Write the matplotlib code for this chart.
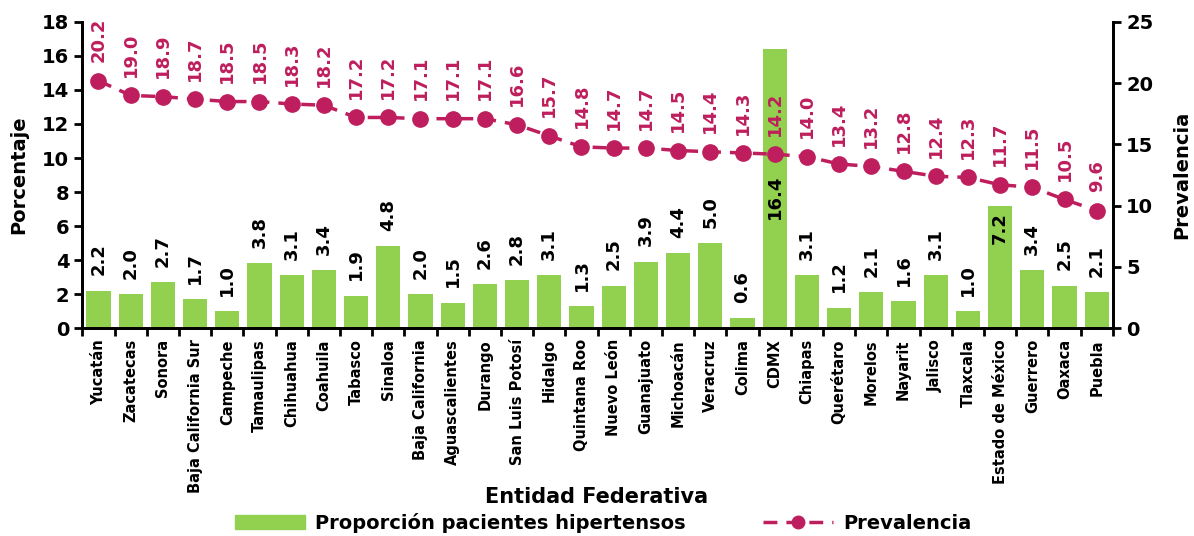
import matplotlib
matplotlib.use("Agg")
import matplotlib.pyplot as plt
import numpy as np
from matplotlib.lines import Line2D
from matplotlib.patches import Patch

# Datos por entidad federativa
entidades = ["Yucatán", "Zacatecas", "Sonora", "Baja California Sur", "Campeche",
             "Tamaulipas", "Chihuahua", "Coahuila", "Tabasco", "Sinaloa",
             "Baja California", "Aguascalientes", "Durango", "San Luis Potosí",
             "Hidalgo", "Quintana Roo", "Nuevo León", "Guanajuato", "Michoacán",
             "Veracruz", "Colima", "CDMX", "Chiapas", "Querétaro", "Morelos",
             "Nayarit", "Jalisco", "Tlaxcala", "Estado de México", "Guerrero",
             "Oaxaca", "Puebla"]
proporcion = [2.2, 2.0, 2.7, 1.7, 1.0, 3.8, 3.1, 3.4, 1.9, 4.8, 2.0, 1.5, 2.6, 2.8,
              3.1, 1.3, 2.5, 3.9, 4.4, 5.0, 0.6, 16.4, 3.1, 1.2, 2.1, 1.6, 3.1, 1.0,
              7.2, 3.4, 2.5, 2.1]
prevalencia = [20.2, 19.0, 18.9, 18.7, 18.5, 18.5, 18.3, 18.2, 17.2, 17.2, 17.1, 17.1,
               17.1, 16.6, 15.7, 14.8, 14.7, 14.7, 14.5, 14.4, 14.3, 14.2, 14.0, 13.4,
               13.2, 12.8, 12.4, 12.3, 11.7, 11.5, 10.5, 9.6]

verde = "#92D050"
rosa = "#BE1E5D"
guiones = (0, (4, 2.6))

plt.rcParams['font.family'] = ['DejaVu Sans']
plt.rcParams['font.weight'] = 'bold'

fig = plt.figure(figsize=(11.94, 5.36), dpi=100)
ax = fig.add_axes([0.069, 0.388, 0.863, 0.571])
ax2 = ax.twinx()

x = np.arange(len(entidades))
ax.bar(x, proporcion, width=0.75, color=verde, zorder=2)
ax2.plot(x, prevalencia, color=rosa, lw=2.5, ls=guiones, marker='o', ms=11, zorder=3)

# etiquetas de barras
for i, v in enumerate(proporcion):
    if entidades[i] == "CDMX":
        ax.text(i, 7.7, f"{v:.1f}", rotation=90, ha='center', va='center',
                fontsize=13, fontweight='bold', color='black', zorder=4)
    elif entidades[i] == "Estado de México":
        ax.text(i, v - 0.4, f"{v:.1f}", rotation=90, ha='center', va='top',
                fontsize=13, fontweight='bold', color='black', zorder=4)
    else:
        ax.text(i, v + 0.9, f"{v:.1f}", rotation=90, ha='center', va='bottom',
                fontsize=13, fontweight='bold', color='black', zorder=4)

for i, v in enumerate(prevalencia):
    ax2.text(i, v + 1.5, f"{v:.1f}", rotation=90, ha='center', va='bottom',
             fontsize=13, fontweight='bold', color=rosa, zorder=4)

ax.set_xlim(-0.5, len(entidades) - 0.5)
ax.set_ylim(0, 18)
ax2.set_ylim(0, 25)
ax.set_yticks(np.arange(0, 19, 2))
ax2.set_yticks(np.arange(0, 26, 5))

ax.set_xticks(x)
ax.set_xticklabels(entidades, rotation=90, fontsize=10.5, fontweight='bold')
ax.set_xticks(np.arange(-0.5, len(entidades), 1), minor=True)
ax.tick_params(axis='x', which='major', length=0, pad=8)
ax.tick_params(axis='x', which='minor', length=6, width=2)
ax.tick_params(axis='y', length=6, width=2, labelsize=14)
ax2.tick_params(axis='y', length=6, width=2, labelsize=14)
for lab in ax.get_yticklabels() + ax2.get_yticklabels():
    lab.set_fontweight('bold')

for a in (ax, ax2):
    a.spines['top'].set_visible(False)
    for s in ('left', 'right', 'bottom'):
        a.spines[s].set_linewidth(2)

ax.set_ylabel("Porcentaje", fontsize=14, fontweight='bold', labelpad=10)
ax2.set_ylabel("Prevalencia", fontsize=14, fontweight='bold', labelpad=14)
fig.text(0.5, 0.073, "Entidad Federativa", ha='center', va='center',
         fontsize=15, fontweight='bold')

handles = [Patch(color=verde),
           Line2D([], [], color=rosa, lw=2.5, ls=guiones, marker='o', ms=9)]
fig.legend(handles, ["Proporción pacientes hipertensos", "Prevalencia"],
           loc='center', bbox_to_anchor=(0.505, 0.025), ncol=2, frameon=False,
           prop={'size': 14, 'weight': 'bold'}, columnspacing=4, handlelength=3.6,
           handletextpad=0.5)

fig.savefig("out.png", dpi=100)
